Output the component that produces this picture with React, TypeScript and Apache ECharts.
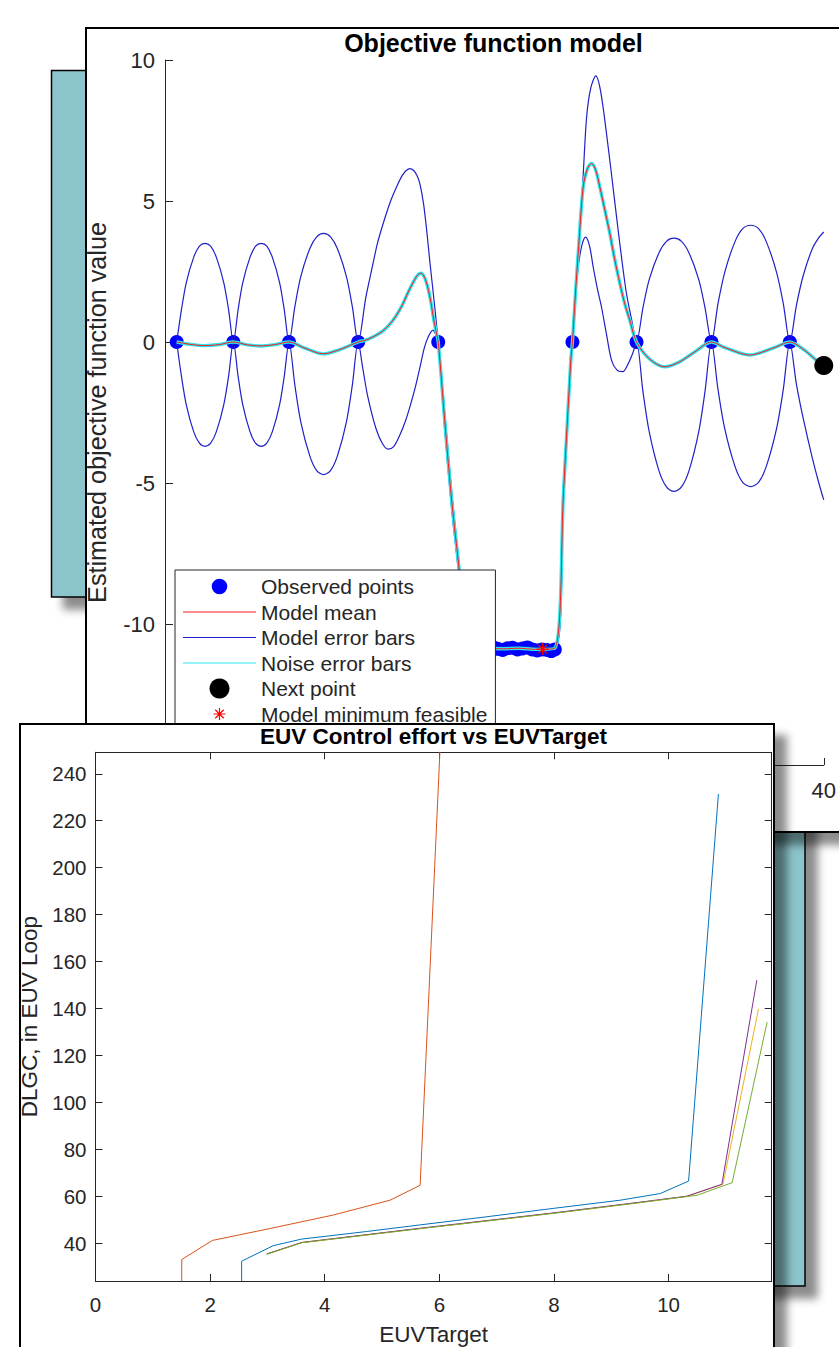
import React, { useEffect, useRef } from 'react';
import * as echarts from 'echarts';

const FONT = "'Liberation Sans', Arial, Helvetica, sans-serif";
const INK = '#262626';

// ---------------- Objective function model (top figure) ----------------
const objXRange = [0, 40];
const objYRange = [-15, 10];
const objYInterval = 5;
const objXInterval = 10;

const observedPoints: number[][] = [
  [0.71, 0], [4.15, 0], [7.53, 0], [11.73, 0], [16.59, 0],
  [18.7, -10.88], [19.0, -10.84], [19.3, -10.9], [19.6, -10.86], [19.9, -10.82],
  [20.2, -10.88], [20.5, -10.92], [20.8, -10.86], [21.1, -10.84], [21.4, -10.9],
  [21.7, -10.87], [22.0, -10.83], [22.3, -10.9], [22.6, -10.94], [22.9, -10.9],
  [23.2, -10.92], [23.45, -10.96], [23.67, -10.9],
  [24.74, 0], [28.63, 0], [33.18, 0], [37.94, 0],
];

const modelMean: number[][] = [
  [0.71, 0], [1.5, -0.08], [2.4, -0.13], [3.3, -0.09], [4.15, 0],
  [5.0, -0.1], [5.85, -0.14], [6.7, -0.09], [7.53, 0],
  [8.5, -0.22], [9.6, -0.42], [10.7, -0.25], [11.73, 0],
  [12.2, 0.07], [12.7, 0.2], [13.2, 0.38], [13.6, 0.6], [14.0, 0.9], [14.4, 1.3], [14.75, 1.75],
  [15.1, 2.15], [15.35, 2.38], [15.55, 2.44], [15.75, 2.3], [15.95, 1.95], [16.15, 1.4], [16.3, 0.85],
  [16.45, 0.4], [16.59, 0],
  [17.0, -2.9], [17.42, -5.7], [17.85, -8.0], [18.27, -10.5], [18.65, -10.86],
  [19.5, -10.86], [20.5, -10.88], [21.5, -10.86], [22.5, -10.9], [23.67, -10.86],
  [24.2, -5.3], [24.64, -0.64], [24.74, 0],
  [24.92, 1.7], [25.09, 3.15], [25.39, 5.5], [25.65, 6.15], [25.9, 6.33], [26.15, 6.1], [26.4, 5.5],
  [26.7, 4.7], [27.01, 3.85], [27.3, 2.95], [27.62, 2.08], [27.92, 1.35], [28.22, 0.78], [28.63, 0],
  [29.42, -0.6], [30.35, -0.88], [31.26, -0.7], [32.17, -0.35], [33.18, 0],
  [34.0, -0.2], [35.5, -0.46], [37.0, -0.2], [37.94, 0],
  [38.85, -0.3], [39.45, -0.6], [40, -0.83],
];

const errorUpper: number[][] = [
  [0.71, 0], [1.0, 1.15], [1.29, 2.1], [1.74, 3.0], [2.09, 3.4], [2.43, 3.5], [2.77, 3.4], [3.12, 3.0], [3.57, 2.1], [3.86, 1.15],
  [4.15, 0], [4.44, 1.15], [4.72, 2.1], [5.16, 3.0], [5.5, 3.4], [5.84, 3.5], [6.18, 3.4], [6.52, 3.0], [6.96, 2.1], [7.24, 1.15],
  [7.53, 0], [7.89, 1.27], [8.24, 2.31], [8.79, 3.31], [9.21, 3.73], [9.63, 3.85], [10.05, 3.73], [10.47, 3.31], [11.02, 2.31], [11.37, 1.27],
  [11.73, 0], [12.2, 1.6], [12.6, 2.7], [12.9, 3.5], [13.3, 4.3], [13.7, 5.0], [14.1, 5.55], [14.4, 5.9], [14.65, 6.08],
  [14.87, 6.15], [15.1, 6.08], [15.3, 5.9], [15.48, 5.6], [15.7, 4.9], [15.9, 3.9], [16.09, 2.8], [16.35, 1.4], [16.59, 0],
  [17.0, -2.6], [17.42, -5.4], [17.85, -7.8], [18.27, -10.3], [18.65, -10.82], [23.67, -10.82],
  [24.2, -5.1], [24.64, -0.5], [24.74, 0],
  [24.95, 2.0], [25.19, 3.85], [25.4, 6.0], [25.6, 7.97], [25.85, 9.0], [26.16, 9.44], [26.45, 8.9], [26.81, 7.38],
  [27.1, 6.0], [27.42, 4.43], [27.72, 3.0], [28.02, 1.72], [28.33, 0.8],
  [28.63, 0], [29.02, 1.21], [29.4, 2.21], [29.99, 3.16], [30.45, 3.57], [30.9, 3.68], [31.36, 3.57], [31.82, 3.16], [32.41, 2.21], [32.79, 1.21],
  [33.18, 0], [33.58, 1.37], [33.99, 2.48], [34.61, 3.56], [35.08, 4.02], [35.56, 4.14], [36.04, 4.02], [36.51, 3.56], [37.13, 2.48], [37.54, 1.37],
  [37.94, 0], [38.34, 1.3], [38.75, 2.35], [39.3, 3.3], [39.7, 3.7], [40, 3.9],
];

const errorLower: number[][] = [
  [0.71, 0], [1.0, -1.22], [1.29, -2.22], [1.74, -3.18], [2.09, -3.59], [2.43, -3.7], [2.77, -3.59], [3.12, -3.18], [3.57, -2.22], [3.86, -1.22],
  [4.15, 0], [4.44, -1.22], [4.72, -2.22], [5.16, -3.18], [5.5, -3.59], [5.84, -3.7], [6.18, -3.59], [6.52, -3.18], [6.96, -2.22], [7.24, -1.22],
  [7.53, 0], [7.89, -1.55], [8.24, -2.82], [8.79, -4.04], [9.21, -4.56], [9.63, -4.7], [10.05, -4.56], [10.47, -4.04], [11.02, -2.82], [11.37, -1.55],
  [11.73, 0], [12.0, -0.9], [12.3, -1.9], [12.8, -3.05], [13.2, -3.6], [13.54, -3.8], [13.9, -3.7], [14.26, -3.3], [14.6, -2.8],
  [14.87, -2.3], [15.2, -1.6], [15.48, -0.9], [15.75, -0.2], [16.0, 0.2], [16.27, 0.42], [16.45, 0.25], [16.59, 0],
  [17.0, -3.2], [17.42, -6.0], [17.85, -8.3], [18.27, -10.7], [18.65, -10.9], [23.67, -10.9],
  [24.2, -5.5], [24.64, -0.8], [24.74, 0],
  [24.9, 1.5], [25.09, 2.66], [25.3, 3.4], [25.54, 3.72], [25.78, 3.4], [26.0, 2.66], [26.25, 1.9], [26.5, 1.25],
  [26.8, 0.3], [27.11, -0.64], [27.45, -1.0], [27.8, -1.05], [28.1, -0.8], [28.4, -0.4],
  [28.63, 0], [29.02, -1.75], [29.4, -3.18], [29.99, -4.56], [30.45, -5.14], [30.9, -5.3], [31.36, -5.14], [31.82, -4.56], [32.41, -3.18], [32.79, -1.75],
  [33.18, 0], [33.58, -1.69], [33.99, -3.08], [34.61, -4.41], [35.08, -4.98], [35.56, -5.13], [36.04, -4.98], [36.51, -4.41], [37.13, -3.08], [37.54, -1.69],
  [37.94, 0], [38.34, -1.5], [38.75, -2.7], [39.3, -4.1], [39.7, -5.0], [40, -5.6],
];

const nextPoint: number[][] = [[40, -0.83]];
const modelMinimum: number[][] = [[22.93, -10.89]];

// ---------------- EUV Control effort vs EUVTarget (lower figure) ----------------
const euvXRange = [0, 11.8];
const euvXTicks = [0, 2, 4, 6, 8, 10];
const dlgcRange = [23.81, 249.15];
const dlgcTicks = [40, 60, 80, 100, 120, 140, 160, 180, 200, 220, 240];

const run1: number[][] = [
  [2.55, 15], [2.55, 32.24], [3.1, 38.86], [3.6, 41.69], [4.73, 44.9], [5.665, 47.72],
  [6.83, 51.2], [7.99, 54.76], [9.16, 58.26], [9.855, 61.08], [10.35, 66.4], [10.87, 231.4],
];
const run2: number[][] = [
  [1.505, 15], [1.505, 32.96], [2.04, 41.1], [3.05, 46.2], [4.15, 51.93], [5.14, 58.26],
  [5.665, 64.6], [6.03, 260],
];
const run3: number[][] = [
  [2.99, 35.3], [3.6, 40.2], [5.665, 46.2], [8.0, 52.75], [9.5, 57.3], [10.32, 59.9],
  [10.95, 65.1], [11.57, 139.8],
];
const run4: number[][] = [
  [2.99, 35.36], [3.6, 40.25], [5.665, 46.3], [8.0, 52.85], [9.5, 57.4], [10.32, 59.95],
  [10.93, 65.0], [11.54, 152.0],
];
const run5: number[][] = [
  [2.99, 35.2], [3.6, 40.1], [5.665, 46.1], [8.0, 52.65], [9.5, 57.2], [10.5, 60.37],
  [11.11, 65.72], [11.72, 134.16],
];
const runColors = ['#0072BD', '#D95319', '#EDB120', '#7E2F8E', '#77AC30'];
const runs = [run1, run2, run3, run4, run5];

// ---------------- marker shapes ----------------
const DOT_ICON =
  'path://M0,0L0.05,0L0,0.05Z M20,20L19.95,20L20,19.95Z M2.2,10A7.8,7.8 0 1 1 17.8,10A7.8,7.8 0 1 1 2.2,10Z';
const STAR =
  'path://M0,0L0.05,0L0,0.05Z M20,20L19.95,20L20,19.95Z M9.4,4H10.6V16H9.4Z M4,9.4H16V10.6H4Z M6.18,5.34L14.66,13.82L13.82,14.66L5.34,6.18Z M5.34,13.82L13.82,5.34L14.66,6.18L6.18,14.66Z';
const LINE_ICON = 'path://M0,0H73V1.2H0Z';

const shadow = {
  shadowBlur: 8,
  shadowOffsetX: 12,
  shadowOffsetY: 12,
  shadowColor: 'rgba(0,0,0,0.45)',
};

const ERR_BLUE = '#2020c8';
const NOISE_CYAN = '#2ce6ee';
const MEAN_RED = '#ff1a1a';

function buildOption(): any {
  const tickCommon = { color: INK, fontFamily: FONT };
  return {
    animation: false,
    backgroundColor: '#ffffff',
    textStyle: { fontFamily: FONT },
    graphic: [
      { type: 'rect', z: 1, silent: true, shape: { x: 51.5, y: 70.5, width: 120, height: 526.5 },
        style: { fill: '#8CC4CB', stroke: '#000', lineWidth: 1.5, ...shadow } },
      { type: 'rect', z: 1, silent: true, shape: { x: 690, y: 790, width: 115, height: 496 },
        style: { fill: '#8CC4CB', stroke: '#000', lineWidth: 1.5, ...shadow } },
      { type: 'rect', z: 2, silent: true, shape: { x: 86, y: 28, width: 820, height: 804 },
        style: { fill: '#ffffff', stroke: '#000', lineWidth: 2, ...shadow } },
      { type: 'rect', z: 20, silent: true, shape: { x: 20, y: 724, width: 754, height: 700 },
        style: { fill: '#ffffff', stroke: '#000', lineWidth: 2, ...shadow } },
    ],
    title: [
      { text: 'Objective function model', left: 493.5, top: 30, textAlign: 'center', padding: 0, z: 8,
        textStyle: { fontSize: 25, fontWeight: 'bold', color: '#000', fontFamily: FONT } },
      { text: 'EUV Control effort vs EUVTarget', left: 433.5, top: 725, textAlign: 'center', padding: 0, z: 25,
        textStyle: { fontSize: 22.5, fontWeight: 'bold', color: '#000', fontFamily: FONT } },
    ],
    legend: {
      left: 175, top: 570, orient: 'vertical', z: 8,
      padding: [6, 8, 6, 8], itemGap: 4.5, itemWidth: 73, itemHeight: 20,
      backgroundColor: '#ffffff', borderColor: INK, borderWidth: 1,
      selectedMode: false,
      textStyle: { fontSize: 21, color: INK, fontFamily: FONT, lineHeight: 21 },
      data: [
        { name: 'Observed points', icon: DOT_ICON, itemStyle: { color: '#0000ff', borderWidth: 0, opacity: 1 } },
        { name: 'Model mean', icon: LINE_ICON, itemStyle: { color: MEAN_RED, borderWidth: 0, opacity: 1 } },
        { name: 'Model error bars', icon: LINE_ICON, itemStyle: { color: ERR_BLUE, borderWidth: 0, opacity: 1 } },
        { name: 'Noise error bars', icon: LINE_ICON, itemStyle: { color: NOISE_CYAN, borderWidth: 0, opacity: 1 } },
        { name: 'Next point', icon: 'circle', itemStyle: { color: '#000000', borderWidth: 0, opacity: 1 } },
        { name: 'Model minimum feasible', icon: STAR, itemStyle: { color: '#ff0000', borderWidth: 0, opacity: 1 } },
      ],
    },
    grid: [
      { left: 165, top: 60, width: 659, height: 705 },
      { left: 95.5, top: 752.3, width: 676.2, height: 534.4 },
    ],
    xAxis: [
      {
        gridIndex: 0, type: 'value', min: objXRange[0], max: objXRange[1], interval: objXInterval, z: 3,
        axisLine: { show: true, onZero: false, lineStyle: { color: INK, width: 1 } },
        axisTick: { show: true, inside: true, length: 7, lineStyle: { color: INK } },
        axisLabel: { ...tickCommon, fontSize: 22, margin: 14 },
        splitLine: { show: false },
      },
      {
        gridIndex: 1, type: 'value', min: euvXRange[0], max: euvXRange[1], z: 21,
        axisLine: { show: true, onZero: false, lineStyle: { color: INK, width: 1 } },
        axisTick: { show: true, inside: true, length: 7, customValues: euvXTicks, lineStyle: { color: INK } },
        axisLabel: { ...tickCommon, fontSize: 20.5, margin: 13, customValues: euvXTicks },
        splitLine: { show: false },
        name: 'EUVTarget', nameLocation: 'middle', nameGap: 42,
        nameTextStyle: { fontSize: 22.5, color: INK, fontFamily: FONT },
      },
      {
        gridIndex: 1, type: 'value', position: 'top', min: euvXRange[0], max: euvXRange[1], z: 21,
        axisLine: { show: true, onZero: false, lineStyle: { color: INK, width: 1 } },
        axisTick: { show: true, inside: true, length: 7, customValues: euvXTicks, lineStyle: { color: INK } },
        axisLabel: { show: false },
        splitLine: { show: false },
      },
    ],
    yAxis: [
      {
        gridIndex: 0, type: 'value', min: objYRange[0], max: objYRange[1], interval: objYInterval, z: 3,
        axisLine: { show: true, onZero: false, lineStyle: { color: INK, width: 1 } },
        axisTick: { show: true, inside: true, length: 8, lineStyle: { color: INK } },
        axisLabel: { ...tickCommon, fontSize: 22, margin: 10 },
        splitLine: { show: false },
        name: 'Estimated objective function value', nameLocation: 'middle', nameGap: 56,
        nameTextStyle: { fontSize: 25.2, color: INK, fontFamily: FONT },
      },
      {
        gridIndex: 1, type: 'value', min: dlgcRange[0], max: dlgcRange[1], z: 21,
        axisLine: { show: true, onZero: false, lineStyle: { color: INK, width: 1 } },
        axisTick: { show: true, inside: true, length: 7, customValues: dlgcTicks, lineStyle: { color: INK } },
        axisLabel: { ...tickCommon, fontSize: 20.5, margin: 9, customValues: dlgcTicks },
        splitLine: { show: false },
        name: 'DLGC, in EUV Loop', nameLocation: 'middle', nameGap: 54,
        nameTextStyle: { fontSize: 22.5, color: INK, fontFamily: FONT },
      },
      {
        gridIndex: 1, type: 'value', position: 'right', min: dlgcRange[0], max: dlgcRange[1], z: 21,
        axisLine: { show: true, onZero: false, lineStyle: { color: INK, width: 1 } },
        axisTick: { show: true, inside: true, length: 7, customValues: dlgcTicks, lineStyle: { color: INK } },
        axisLabel: { show: false },
        splitLine: { show: false },
      },
    ],
    series: [
      {
        name: 'Observed points', type: 'scatter', xAxisIndex: 0, yAxisIndex: 0, z: 3,
        data: observedPoints, symbol: 'circle', symbolSize: 14,
        itemStyle: { color: '#0000ff', opacity: 1 }, silent: true,
      },
      {
        name: 'Model error bars', type: 'line', xAxisIndex: 0, yAxisIndex: 0, z: 4,
        data: errorUpper, symbol: 'none', showSymbol: false, smooth: 0.3,
        lineStyle: { color: ERR_BLUE, width: 1.2 }, itemStyle: { color: ERR_BLUE }, silent: true,
      },
      {
        name: 'Model error bars', type: 'line', xAxisIndex: 0, yAxisIndex: 0, z: 4,
        data: errorLower, symbol: 'none', showSymbol: false, smooth: 0.3,
        lineStyle: { color: ERR_BLUE, width: 1.2 }, itemStyle: { color: ERR_BLUE }, silent: true,
      },
      {
        name: 'Noise error bars', type: 'line', xAxisIndex: 0, yAxisIndex: 0, z: 5,
        data: modelMean, symbol: 'none', showSymbol: false, smooth: 0.3,
        lineStyle: { color: NOISE_CYAN, width: 3.4 }, itemStyle: { color: NOISE_CYAN }, silent: true,
      },
      {
        name: 'Model mean', type: 'line', xAxisIndex: 0, yAxisIndex: 0, z: 6,
        data: modelMean, symbol: 'none', showSymbol: false, smooth: 0.3,
        lineStyle: { color: MEAN_RED, width: 1 }, itemStyle: { color: MEAN_RED }, silent: true,
      },
      {
        name: 'Next point', type: 'scatter', xAxisIndex: 0, yAxisIndex: 0, z: 7,
        data: nextPoint, symbol: 'circle', symbolSize: 19,
        itemStyle: { color: '#000000', opacity: 1 }, silent: true,
      },
      {
        name: 'Model minimum feasible', type: 'scatter', xAxisIndex: 0, yAxisIndex: 0, z: 7,
        data: modelMinimum, symbol: STAR, symbolSize: 20,
        itemStyle: { color: '#ff0000', opacity: 1 }, silent: true,
      },
      ...runs.map((run, i) => ({
        name: 'Run ' + (i + 1), type: 'line', xAxisIndex: 1, yAxisIndex: 1, z: 22,
        data: run, symbol: 'none', showSymbol: false,
        lineStyle: { color: runColors[i], width: 1 }, itemStyle: { color: runColors[i] }, silent: true,
      })),
    ],
  };
}

export default function App() {
  const ref = useRef<HTMLDivElement>(null);
  useEffect(() => {
    document.body.style.margin = '0';
    const chart = echarts.init(ref.current as HTMLDivElement, null, { renderer: 'svg' });
    chart.setOption(buildOption());
    return () => chart.dispose();
  }, []);
  return (
    <div
      ref={ref}
      style={{ position: 'absolute', left: 0, top: 0, width: 839, height: 1347, overflow: 'hidden' }}
    />
  );
}
